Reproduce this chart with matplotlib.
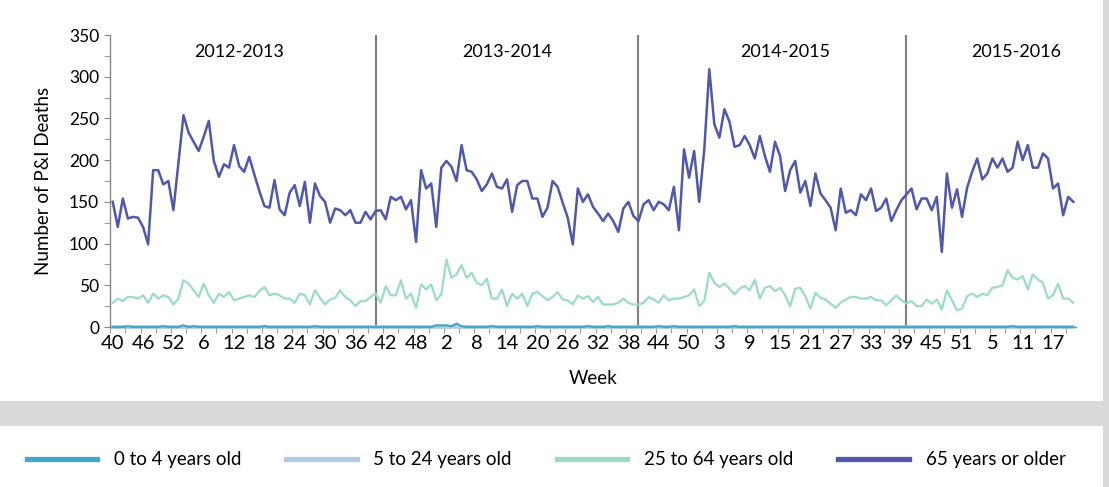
import matplotlib
matplotlib.use("Agg")
import matplotlib.pyplot as plt
from matplotlib.lines import Line2D
from matplotlib.patches import Rectangle
from matplotlib.ticker import MultipleLocator, FixedLocator

plt.rcParams['font.family'] = ['Lato', 'DejaVu Sans']

# seasons and their MMWR weeks
seasons = ['2012-2013', '2013-2014', '2014-2015', '2015-2016']
season_weeks = [
    list(range(40, 53)) + list(range(1, 40)),
    list(range(40, 53)) + list(range(1, 40)),
    list(range(40, 54)) + list(range(1, 40)),
    list(range(40, 53)) + list(range(1, 22)),
]

# 65 years or older
s1_65 = [150, 120, 154, 130, 132, 131, 120, 99, 188, 188, 171, 175, 140, 197, 254, 233, 222, 211,
         228, 247, 199, 180, 195, 191, 218, 193, 186, 204, 183, 163, 145, 143, 176, 141, 134, 161,
         170, 145, 174, 125, 172, 157, 150, 125, 142, 140, 134, 140, 125, 125, 138, 129]
s2_65 = [139, 140, 129, 156, 152, 156, 141, 152, 102, 188, 166, 172, 120, 191, 199, 192, 175, 218,
         188, 186, 177, 163, 171, 184, 168, 166, 177, 138, 170, 175, 175, 154, 154, 132, 143, 175,
         168, 149, 131, 99, 166, 150, 159, 144, 136, 127, 136, 127, 114, 142, 150, 133]
s3_65 = [127, 147, 152, 140, 150, 147, 140, 168, 116, 213, 179, 211, 150, 212, 309, 243, 227, 261,
         246, 216, 218, 229, 218, 202, 229, 205, 186, 222, 205, 163, 188, 199, 161, 175, 145, 184,
         160, 152, 143, 116, 166, 137, 140, 134, 159, 152, 166, 139, 143, 154, 127, 140, 152]
s4_65 = [159, 166, 141, 154, 154, 140, 156, 90, 184, 143, 165, 132, 167, 186, 202, 177, 184, 202,
         191, 202, 186, 191, 222, 200, 218, 191, 191, 208, 202, 166, 172, 134, 156, 150]

# 25 to 64 years old
s1_25 = [29, 34, 31, 36, 36, 34, 38, 29, 40, 34, 38, 36, 27, 34, 56, 52, 44, 36, 52, 38, 29, 40, 36,
         42, 32, 34, 36, 38, 36, 43, 48, 38, 40, 38, 34, 34, 29, 40, 38, 27, 44, 35, 27, 33, 35, 44,
         36, 32, 25, 31, 31, 36]
s2_25 = [40, 29, 49, 38, 38, 56, 34, 40, 23, 51, 45, 51, 32, 39, 81, 59, 63, 74, 59, 65, 53, 50, 58,
         34, 34, 45, 25, 40, 34, 40, 25, 40, 42, 37, 32, 36, 42, 33, 32, 27, 38, 34, 37, 30, 36, 27,
         27, 27, 29, 34, 29, 27]
s3_25 = [27, 29, 36, 33, 29, 38, 32, 34, 34, 36, 38, 45, 25, 31, 65, 53, 48, 52, 46, 39, 46, 49, 44,
         57, 34, 47, 49, 43, 47, 38, 25, 46, 47, 37, 22, 41, 35, 33, 28, 23, 29, 33, 36, 36, 34, 34,
         36, 32, 32, 26, 32, 38, 32]
s4_25 = [28, 31, 25, 25, 33, 28, 33, 21, 44, 32, 20, 22, 37, 40, 36, 40, 38, 47, 48, 50, 68, 59, 57,
         61, 45, 63, 57, 53, 34, 38, 52, 34, 34, 29]

# 5 to 24 years old
s1_5 = [0, 0, 0, 0, 0, 0, 0, 0, 0, 0, 0, 0, 0, 0, 0, 0, 0, 0, 0, 0, 0, 0, 0, 0, 0, 0,
        0, 0, 0, 0, 0, 0, 0, 0, 0, 0, 0, 0, 0, 0, 0, 0, 0, 0, 0, 0, 0, 0, 0, 0, 0, 0]
s2_5 = [0, 0, 0, 0, 0, 0, 0, 0, 0, 0, 0, 0, 0, 0, 0, 0, 0, 0, 0, 0, 0, 0, 0, 0, 0, 0,
        0, 0, 0, 0, 0, 0, 0, 0, 0, 0, 0, 0, 0, 0, 0, 0, 0, 0, 0, 0, 0, 0, 0, 0, 0, 0]
s3_5 = [0, 0, 0, 0, 0, 0, 0, 0, 0, 0, 0, 0, 0, 0, 0, 0, 0, 0, 0, 0, 0, 0, 0, 0, 0, 0, 0,
        0, 0, 0, 0, 0, 0, 0, 0, 0, 0, 0, 0, 0, 0, 0, 0, 0, 0, 0, 0, 0, 0, 0, 0, 0, 0]
s4_5 = [0, 0, 0, 0, 0, 0, 0, 0, 0, 0, 0, 0, 0, 0, 0, 0, 0,
        0, 0, 0, 0, 0, 0, 0, 0, 0, 0, 0, 0, 0, 0, 0, 0, 0]

# 0 to 4 years old
s1_04 = [0, 0, 0, 1, 0, 0, 0, 0, 0, 0, 1, 0, 0, 0, 2, 0, 1, 0, 0, 0, 0, 0, 0, 0, 0, 0,
         0, 0, 0, 0, 1, 0, 0, 0, 0, 0, 0, 0, 0, 0, 1, 0, 0, 0, 0, 0, 0, 0, 0, 0, 0, 0]
s2_04 = [0, 0, 0, 0, 0, 0, 0, 0, 0, 0, 0, 0, 2, 2, 2, 1, 4, 1, 0, 0, 0, 0, 0, 1, 0, 0,
         0, 0, 0, 0, 0, 0, 1, 0, 0, 0, 0, 0, 0, 0, 0, 0, 1, 0, 0, 0, 1, 0, 0, 0, 0, 0]
s3_04 = [0, 0, 0, 0, 1, 0, 0, 1, 0, 0, 0, 0, 0, 0, 0, 0, 0, 0, 0, 1, 0, 0, 0, 0, 0, 0, 0,
         0, 0, 0, 0, 0, 0, 0, 0, 0, 0, 0, 0, 0, 0, 0, 0, 0, 0, 0, 0, 0, 0, 0, 0, 0, 0]
s4_04 = [0, 0, 0, 0, 0, 0, 0, 0, 0, 0, 0, 0, 0, 0, 0, 0, 0,
         0, 0, 0, 0, 1, 0, 0, 0, 0, 0, 0, 0, 0, 0, 0, 0, 0]

age_labels = ['0 to 4 years old', '5 to 24 years old', '25 to 64 years old', '65 years or older']
colors = ['#44A7C7', '#B5CAE6', '#9ADCC7', '#4F58AA']

weeks = season_weeks[0] + season_weeks[1] + season_weeks[2] + season_weeks[3]
y04 = s1_04 + s2_04 + s3_04 + s4_04
y5 = s1_5 + s2_5 + s3_5 + s4_5
y25 = s1_25 + s2_25 + s3_25 + s4_25
y65 = s1_65 + s2_65 + s3_65 + s4_65
x = list(range(len(weeks)))

W, H = 1109, 487
fig = plt.figure(figsize=(W / 100, H / 100), dpi=100, facecolor='#d9d9d9')
# white panels (chart + legend)
fig.patches.append(Rectangle((0, 1 - 401 / H), 1103 / W, 401 / H, transform=fig.transFigure,
                             facecolor='white', edgecolor='none', zorder=-2))
fig.patches.append(Rectangle((0, 0), 1103 / W, 61 / H, transform=fig.transFigure,
                             facecolor='white', edgecolor='none', zorder=-2))

ax = fig.add_axes([110.2 / W, 160 / H, 965.6 / W, 292 / H])
ax.set_zorder(2)
ax.set_facecolor('none')

ax.plot(x, y5, color=colors[1], lw=2.6, clip_on=False, zorder=3)
ax.plot(x, y04, color=colors[0], lw=1.6, clip_on=False, zorder=4)
ax.plot(x, y25, color=colors[2], lw=1.6, zorder=5)
ax.plot(x, y65, color=colors[3], lw=1.8, zorder=6)

# season separators and titles
start = 0
label_pos = [25, 78, 133, 178.8]
for i, wk in enumerate(season_weeks):
    if i > 0:
        ax.axvline(start, color='#7f7f7f', lw=1.5, zorder=2)
    ax.text(label_pos[i], 330, seasons[i], ha='center', va='center', fontsize=13)
    start += len(wk)

ax.set_xlim(-0.5, len(x) - 0.5)
ax.set_ylim(0, 350)

for s in ['top', 'right']:
    ax.spines[s].set_visible(False)
for s in ['left', 'bottom']:
    ax.spines[s].set_color('#868686')
    ax.spines[s].set_linewidth(1.0)

ax.yaxis.set_major_locator(MultipleLocator(50))
ax.yaxis.set_minor_locator(MultipleLocator(25))
ax.tick_params(axis='y', which='both', direction='out', length=4, color='#868686',
               labelsize=12.5, pad=4)

ax.xaxis.set_major_locator(FixedLocator(x[::6]))
ax.set_xticklabels([str(w) for w in weeks[::6]])
ax.xaxis.set_minor_locator(FixedLocator([i - 0.5 for i in range(0, len(x) + 1, 3)]))
ax.tick_params(axis='x', which='major', length=0, labelsize=14.5, pad=6)
ax.tick_params(axis='x', which='minor', direction='out', length=4, color='#868686')

ax.set_ylabel('Number of P&I Deaths', fontsize=13.5, labelpad=12)
ax.set_xlabel('Week', fontsize=13.5, labelpad=13)

handles = [Line2D([], [], color=c, lw=3.8) for c in colors]
fig.legend(handles, age_labels, loc='center left', bbox_to_anchor=(19 / W, 27 / H), ncol=4,
           frameon=False, fontsize=13.5, handlelength=3.75, handletextpad=0.9,
           columnspacing=2.4, borderaxespad=0)

fig.savefig('out.png', dpi=100, facecolor=fig.get_facecolor())
